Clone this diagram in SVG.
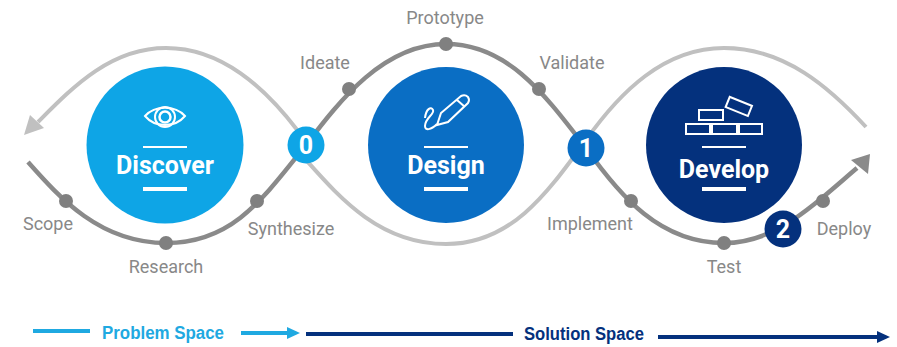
<svg xmlns="http://www.w3.org/2000/svg" width="897" height="347" viewBox="0 0 897 347">
<style>
.lbl{font-family:Roboto,"Liberation Sans",sans-serif;font-size:18px;fill:#888888;text-anchor:middle}
.title{font-family:Roboto,"Liberation Sans",sans-serif;font-size:25px;font-weight:700;fill:#fff;text-anchor:middle}
.num{font-family:Roboto,"Liberation Sans",sans-serif;font-size:25px;font-weight:700;fill:#fff;text-anchor:middle}
.dark{fill:none;stroke:#8a8a8a;stroke-width:4.5}
.light{fill:none;stroke:#c0c0c0;stroke-width:4}
.dot{fill:#808080}
.rule{stroke:#fff;fill:none}
.ico{fill:none;stroke:#fff;stroke-width:2}
.sp{font-family:"Liberation Sans",Arial,sans-serif;font-size:18px;font-weight:700;text-anchor:middle}
</style>
<rect width="897" height="347" fill="#fff"/>
<g id="connectors">
<path class="light" d="M298 131C265 88 222 48 166 48C110 48 72 88 38 122"/>
<polygon points="24,135 30,115 44,128" fill="#c0c0c0"/>
<path class="dark" d="M28 162C60 198 100 243 166 243C232 243 262 200 306 145C340 100 384 44 446 44C508 44 545 95 586 148C620 196 660 243 724 243C775 243 810 208 857 168"/>
<polygon points="870,154 868,174 851,160" fill="#8a8a8a"/>
<path class="light" d="M306 160C340 198 380 244 446 244C512 244 548 192 586 140C620 92 664 48 724 48C785 48 830 88 866 127"/>
</g>
<g id="steps">
<g id="step-scope"><circle class="dot" cx="66" cy="201" r="7"/><text class="lbl" x="48" y="230">Scope</text></g>
<g id="step-research"><circle class="dot" cx="166" cy="243" r="7"/><text class="lbl" x="166" y="273">Research</text></g>
<g id="step-synthesize"><circle class="dot" cx="257" cy="201" r="7"/><text class="lbl" x="291" y="235">Synthesize</text></g>
<g id="step-ideate"><circle class="dot" cx="349" cy="89" r="7"/><text class="lbl" x="325" y="69">Ideate</text></g>
<g id="step-prototype"><circle class="dot" cx="446" cy="44" r="7"/><text class="lbl" x="445" y="24">Prototype</text></g>
<g id="step-validate"><circle class="dot" cx="539" cy="89" r="7"/><text class="lbl" x="572" y="69">Validate</text></g>
<g id="step-implement"><circle class="dot" cx="631" cy="201" r="7"/><text class="lbl" x="590" y="230">Implement</text></g>
<g id="step-test"><circle class="dot" cx="724" cy="243" r="7"/><text class="lbl" x="724" y="273">Test</text></g>
<g id="step-deploy"><circle class="dot" cx="823" cy="201" r="7"/><text class="lbl" x="844" y="235">Deploy</text></g>
</g>
<g id="discover">
<circle cx="165" cy="145" r="78.5" fill="#0ea5e6"/>
<path class="ico" d="M145 116C155 105 175 105 185 116C175 128 155 128 145 116Z"/>
<circle class="ico" cx="165" cy="117" r="10"/>
<circle cx="165" cy="117" r="5.5" fill="none" stroke="#fff" stroke-width="2.5"/>
<line class="rule" x1="143" y1="147" x2="187" y2="147" stroke-width="2"/>
<text class="title" x="165" y="174">Discover</text>
<line class="rule" x1="143" y1="189" x2="187" y2="189" stroke-width="4"/>
</g>
<g id="design">
<circle cx="446" cy="145" r="78" fill="#0a6ec4"/>
<path class="ico" d="M437 125L441 113L461 96Q465 94 468 97Q470 100 468 103L448 122ZM457 100L465 107"/>
<path class="ico" d="M437 124C431 130 425 131 425 126C425 118 435 114 433 110C431 106 426 109 425 118"/>
<line class="rule" x1="424" y1="147" x2="468" y2="147" stroke-width="2"/>
<text class="title" x="446" y="174">Design</text>
<line class="rule" x1="424" y1="189" x2="468" y2="189" stroke-width="4"/>
</g>
<g id="develop">
<circle cx="724" cy="145" r="78" fill="#04317d"/>
<g class="ico">
<rect x="699" y="110" width="24" height="10"/>
<rect x="686" y="124" width="24" height="10"/>
<rect x="712" y="124" width="25" height="10"/>
<rect x="739" y="124" width="23" height="10"/>
<rect x="727" y="101" width="24" height="11" transform="rotate(22 739 106)"/>
</g>
<line class="rule" x1="702" y1="147" x2="746" y2="147" stroke-width="2"/>
<text class="title" x="724" y="178">Develop</text>
<line class="rule" x1="702" y1="189" x2="746" y2="189" stroke-width="4"/>
</g>
<g id="badge-0"><circle cx="306" cy="145" r="18.5" fill="#0ea5e6"/><text class="num" x="306" y="154">0</text></g>
<g id="badge-1"><circle cx="586" cy="148" r="18.5" fill="#0a6ec4"/><text class="num" x="586" y="157">1</text></g>
<g id="badge-2"><circle cx="783" cy="229" r="18.5" fill="#04317d"/><text class="num" x="783" y="238" font-size="22">2</text></g>
<g id="legend">
<line x1="33" y1="331" x2="90" y2="331" stroke="#1fa9e1" stroke-width="4"/>
<text class="sp" x="163" y="339" fill="#1fa9e1" textLength="122" lengthAdjust="spacingAndGlyphs">Problem Space</text>
<line x1="241" y1="333" x2="288" y2="333" stroke="#1fa9e1" stroke-width="4"/>
<polygon points="300,333 287,327 287,339" fill="#1fa9e1"/>
<line x1="306" y1="334" x2="513" y2="334" stroke="#04317d" stroke-width="4"/>
<text class="sp" x="584" y="340" fill="#04317d" textLength="120" lengthAdjust="spacingAndGlyphs">Solution Space</text>
<line x1="658" y1="337" x2="878" y2="337" stroke="#04317d" stroke-width="4"/>
<polygon points="890,337 877,331 877,343" fill="#04317d"/>
</g>
</svg>
